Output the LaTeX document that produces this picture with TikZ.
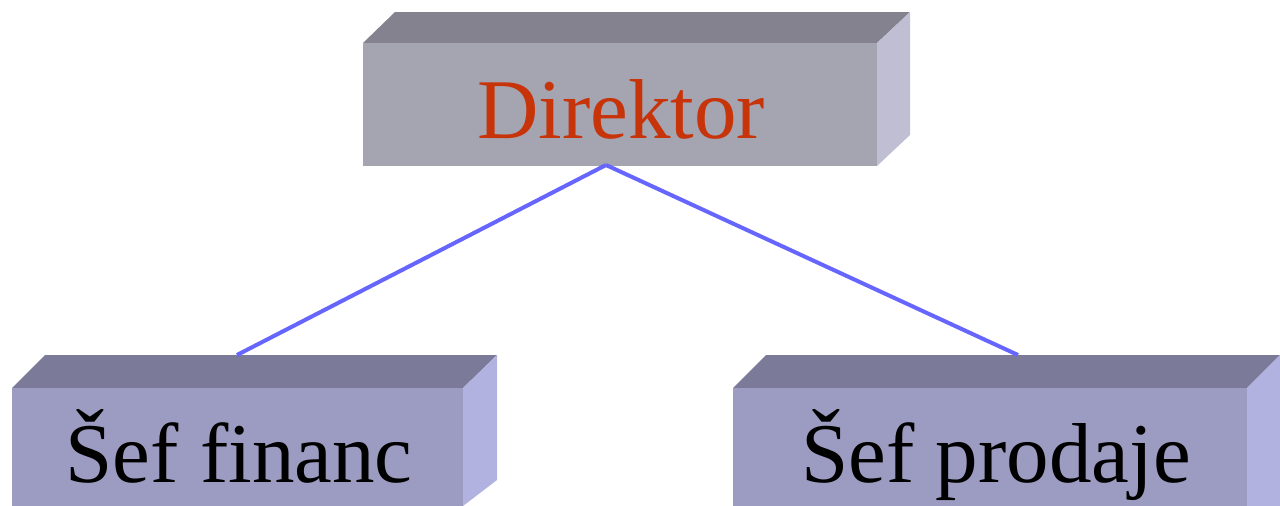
\documentclass[tikz,border=0pt]{standalone}
\usepackage{fontspec}
\setmainfont{Liberation Serif}
\begin{document}
\begin{tikzpicture}[x=1pt,y=-1pt,
  lbl/.style={font=\fontsize{85}{90}\selectfont, anchor=base, inner sep=0pt},
  conn/.style={draw=linkblue, line width=4pt}]
\definecolor{topA}{HTML}{84828F}
\definecolor{frontA}{HTML}{A5A4B1}
\definecolor{sideA}{HTML}{BFBED2}
\definecolor{topB}{HTML}{7B7A99}
\definecolor{frontB}{HTML}{9C9CC2}
\definecolor{sideB}{HTML}{B2B2E0}
\definecolor{linkblue}{HTML}{6666FF}
\definecolor{dirred}{HTML}{C8340A}
\useasboundingbox (0,0) rectangle (1280,506);
% top box
\fill[topA] (363,43) -- (395,12) -- (910,12) -- (877,43) -- cycle;
\fill[sideA] (877,43) -- (910,12) -- (910,135) -- (877,166) -- cycle;
\fill[frontA] (363,43) rectangle (877,166);
% bottom left box
\fill[topB] (12,388) -- (45,355) -- (497,355) -- (463,388) -- cycle;
\fill[sideB] (463,388) -- (497,355) -- (497,480) -- (463,506) -- cycle;
\fill[frontB] (12,388) rectangle (463,506);
% bottom right box
\fill[topB] (733,388) -- (766,355) -- (1280,355) -- (1280,355) -- (1247,388) -- cycle;
\fill[sideB] (1247,388) -- (1280,355) -- (1280,506) -- (1247,506) -- cycle;
\fill[frontB] (733,388) rectangle (1247,506);
% labels
\node[lbl, text=dirred] (dir) at (621,138) {Direktor};
\node[lbl] (fin) at (239,482) {Šef financ};
\node[lbl] (prod) at (996,482) {Šef prodaje};
% connector points
\coordinate (dirb) at (606,165);
\coordinate (fint) at (237,355);
\coordinate (prodt) at (1018,355);
\draw[conn] (dirb) -- (fint);
\draw[conn] (dirb) -- (prodt);
\end{tikzpicture}
\end{document}
